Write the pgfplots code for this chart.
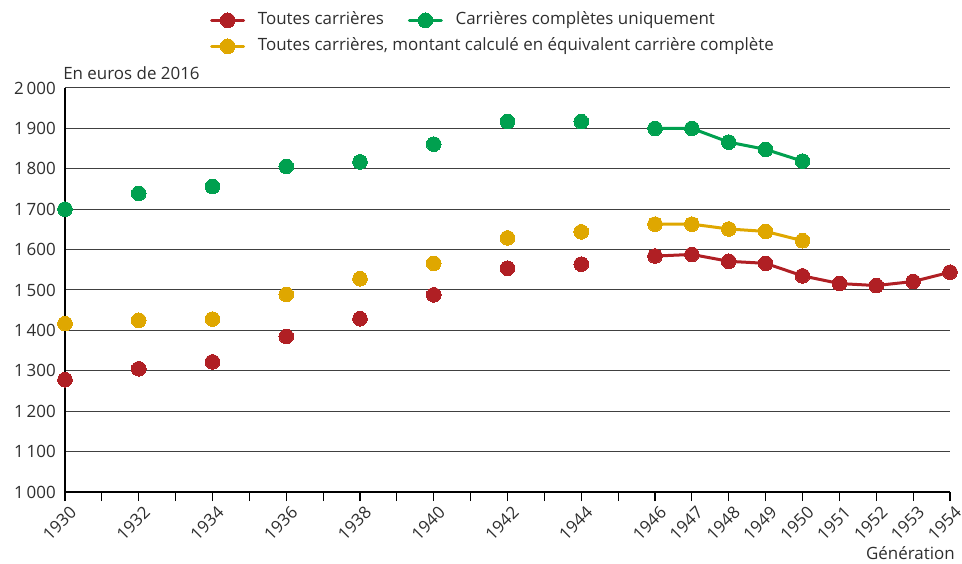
\documentclass[border=0pt]{standalone}
\usepackage{fontspec}
\setmainfont{Open Sans}
\usepackage{pgfplots}
\pgfplotsset{compat=1.18}
\definecolor{cred}{HTML}{B01F24}
\definecolor{cgreen}{HTML}{00A04F}
\definecolor{cyellow}{HTML}{DFA700}
\definecolor{textgray}{HTML}{2E2E2E}
\definecolor{gridgray}{HTML}{404040}
\begin{document}
\fontsize{12.7}{15}\selectfont
\begin{tikzpicture}
\begin{axis}[
  scale only axis,
  width=663.75pt, height=303pt,
  xmin=0, xmax=24, ymin=1000, ymax=2000,
  clip=false,
  axis lines*=left,
  axis line style={draw=black, line width=0.9pt},
  xtick={0,...,24},
  xticklabels={1930,,1932,,1934,,1936,,1938,,1940,,1942,,1944,,1946,1947,1948,1949,1950,1951,1952,1953,1954},
  tick align=outside,
  major tick length=6.75pt,
  xtick style={draw=black, line width=0.9pt},
  xticklabel style={rotate=45, anchor=east, text=textgray, inner sep=1pt, xshift=0.8pt, yshift=-9pt},
  ytick={1000,1100,...,2000},
  yticklabels={1\,000,1\,100,1\,200,1\,300,1\,400,1\,500,1\,600,1\,700,1\,800,1\,900,2\,000},
  ytick style={draw=none},
  yticklabel style={anchor=east, text=textgray, inner sep=0pt, xshift=0pt},
  ymajorgrids,
  grid style={draw=gridgray, line width=0.75pt},
  xlabel={Génération},
  xlabel style={at={(rel axis cs:1,0)}, anchor=base east, inner sep=0pt, xshift=3.75pt, yshift=-50.5pt, text=textgray},
  legend columns=2,
  legend style={draw=none, fill=none, inner sep=0pt, at={(rel axis cs:0.1638,1.188)}, anchor=north west,
    nodes={text=textgray, text height=9pt, text depth=3pt, inner ysep=0pt, inner xsep=3.5pt},
    /tikz/every even column/.append style={column sep=14.5pt},
    row sep=7.5pt},
  legend cell align=left,
  legend image code/.code={
    \draw[#1, mark repeat=2, mark phase=2] plot coordinates {(0pt,0pt)(12pt,0pt)(24pt,0pt)};
    \path (30pt,0pt);
  },
  every axis plot/.append style={line width=2.25pt, mark=*, mark size=5.5pt, line join=round, line cap=round},
]
% marks only, 1930-1944
\addplot[cred, only marks, mark options={fill=cred, draw=cred, line width=0pt}, forget plot] coordinates {
  (0,1278)(2,1305)(4,1322)(6,1385)(8,1429)(10,1488)(12,1554)(14,1564)};
\addplot[cgreen, only marks, mark options={fill=cgreen, draw=cgreen, line width=0pt}, forget plot] coordinates {
  (0,1700)(2,1739)(4,1756)(6,1806)(8,1817)(10,1861)(12,1917)(14,1917)};
\addplot[cyellow, only marks, mark options={fill=cyellow, draw=cyellow, line width=0pt}, forget plot] coordinates {
  (0,1417)(2,1425)(4,1428)(6,1489)(8,1528)(10,1566)(12,1629)(14,1644)};
% lines 1946-1954
\addplot[cred, mark options={fill=cred, draw=cred, line width=0pt}] coordinates {
  (16,1584)(17,1588)(18,1571)(19,1566)(20,1535)(21,1516)(22,1511)(23,1521)(24,1544)};
\addlegendentry{Toutes carrières}
\addplot[cgreen, mark options={fill=cgreen, draw=cgreen, line width=0pt}] coordinates {
  (16,1900)(17,1900)(18,1866)(19,1848)(20,1819)};
\addlegendentry{Carrières complètes uniquement}
\addplot[cyellow, mark options={fill=cyellow, draw=cyellow, line width=0pt}] coordinates {
  (16,1663)(17,1663)(18,1651)(19,1645)(20,1622)};
\addlegendentry{\rlap{Toutes carrières, montant calculé en équivalent carrière complète}}
\node[anchor=base west, inner sep=0pt, text=textgray] at (rel axis cs:0,1) [xshift=-1.5pt, yshift=6pt] {En euros de 2016};
\end{axis}
\pgfresetboundingbox
\path[use as bounding box] (-48.75pt,-53.25pt) rectangle (672.75pt,369pt);
\end{tikzpicture}
\end{document}
